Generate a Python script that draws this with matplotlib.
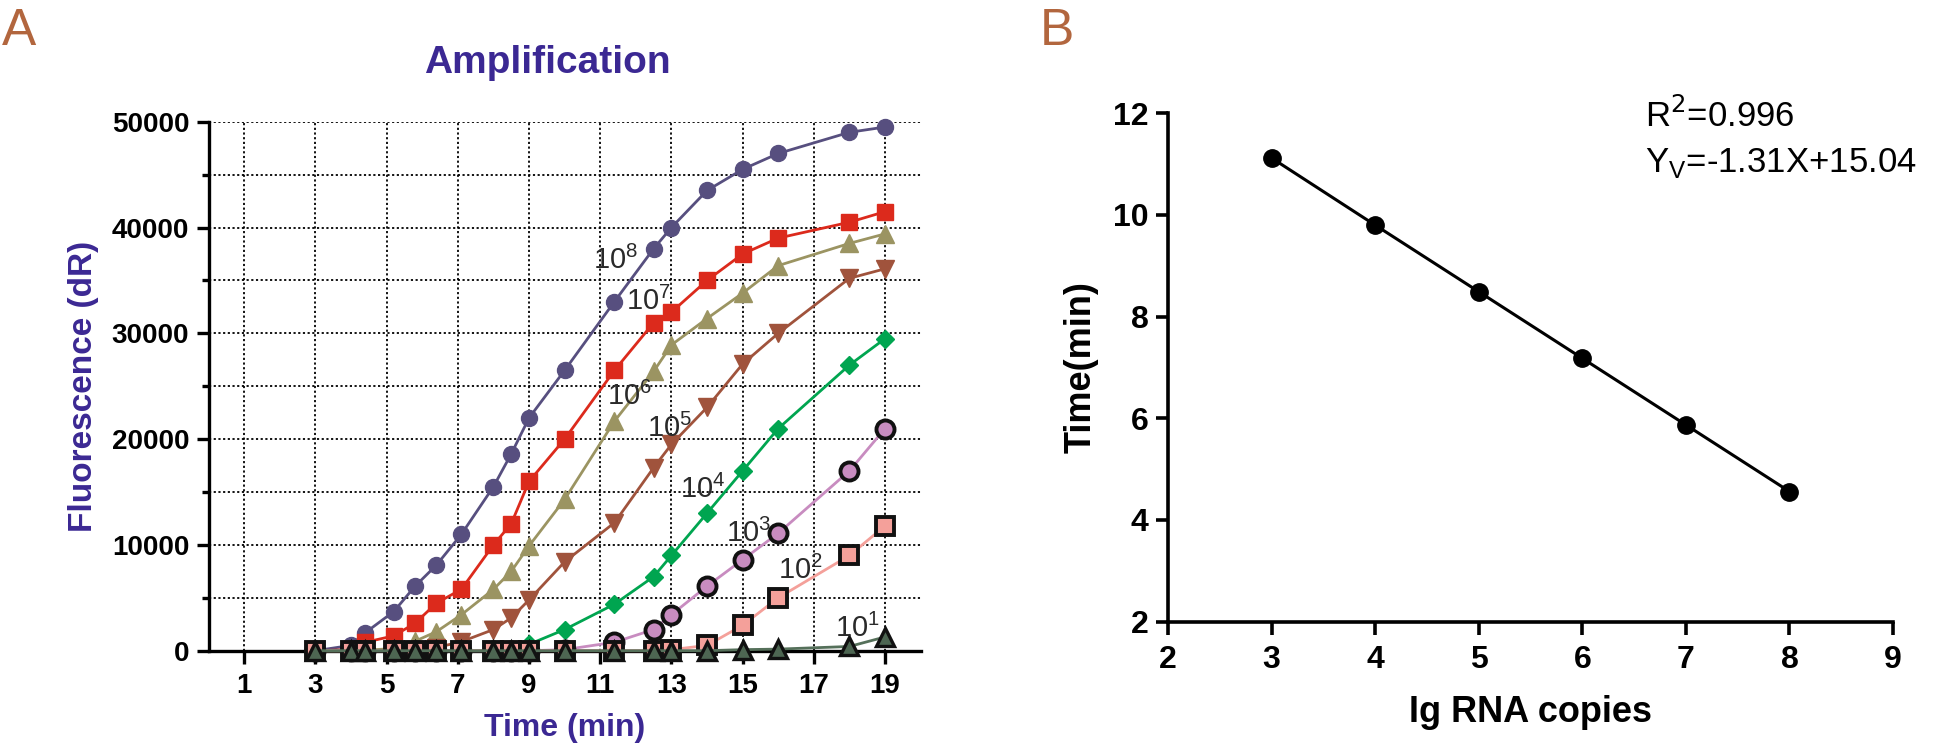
import matplotlib
matplotlib.use("Agg")
import matplotlib.pyplot as plt
from matplotlib.ticker import MultipleLocator

plt.rcParams['font.family'] = ['Liberation Sans', 'DejaVu Sans']

# panel A: amplification curves
time_min = [3, 4.0, 4.4, 5.2, 5.8, 6.4, 7.1, 8.0, 8.5, 9.0, 10.0, 11.4, 12.5, 13.0, 14.0, 15.0, 16.0, 18.0, 19.0]
c1e8 = [0, 500, 1700, 3700, 6100, 8100, 11000, 15500, 18600, 22000, 26500, 33000, 38000, 40000, 43500, 45500, 47000, 49000, 49500]
c1e7 = [0, 100, 800, 1400, 2600, 4500, 5800, 10000, 12000, 16000, 20000, 26500, 31000, 32000, 35000, 37500, 39000, 40500, 41500]
c1e6 = [0, 0, 50, 200, 900, 1800, 3400, 5800, 7500, 9900, 14300, 21700, 26400, 28900, 31400, 33800, 36400, 38500, 39400]
c1e5 = [0, 0, 0, 0, 0, 300, 850, 2000, 3100, 4800, 8400, 12100, 17300, 19500, 23000, 27100, 30000, 35200, 36100]
c1e4 = [0, 0, 0, 0, 0, 0, 0, 0, 0, 600, 2000, 4400, 7000, 9000, 13000, 17000, 21000, 27000, 29500]
c1e3 = [0, 0, 0, 0, 0, 0, 0, 0, 0, 0, 100, 800, 2000, 3400, 6100, 8600, 11100, 17000, 21000]
c1e2 = [0, 0, 0, 0, 0, 0, 0, 0, 0, 0, 0, 0, 0, 100, 500, 2400, 5000, 9000, 11800]
c1e1 = [0, 0, 0, 0, 0, 0, 0, 0, 0, 0, 0, 0, 0, 0, 0, 100, 150, 400, 1300]

curve_labels = ['8', '7', '6', '5', '4', '3', '2', '1']
label_x = [10.8, 11.73, 11.18, 12.3, 13.24, 14.53, 16.0, 17.6]
label_y = [36080, 32200, 23200, 20170, 14400, 10300, 6780, 1320]

# panel B: standard curve
lg_copies = [3, 4, 5, 6, 7, 8]
time_pos = [11.12, 9.80, 8.49, 7.18, 5.87, 4.56]

title_col = '#3b2893'
panel_col = '#b2663e'

fig = plt.figure(figsize=(19.46, 7.5), dpi=100)
ax = fig.add_axes([0.1072, 0.1324, 0.3659, 0.7053])
ax2 = fig.add_axes([0.6002, 0.1711, 0.3726, 0.6779])

# --- panel A ---
lw = 2.0
ax.plot(time_min, c1e8, '-o', color='#574f7f', lw=lw, ms=11.5, clip_on=False, zorder=3)
ax.plot(time_min, c1e7, '-s', color='#dc2a1c', lw=lw, ms=11.5, clip_on=False, zorder=3)
ax.plot(time_min, c1e6, '-^', color='#9b9462', lw=lw, ms=13, clip_on=False, zorder=3)
ax.plot(time_min, c1e5, '-v', color='#a0533c', lw=lw, ms=13, clip_on=False, zorder=3)
ax.plot(time_min, c1e4, '-D', color='#00a550', lw=lw, ms=9.5, clip_on=False, zorder=3)
ax.plot(time_min, c1e3, '-o', color='#c88cc0', mfc='#c88cc0', mec='#111111', mew=2.8,
        lw=lw, ms=13, clip_on=False, zorder=4)
ax.plot(time_min, c1e2, '-s', color='#f4a09a', mfc='#f4a09a', mec='#111111', mew=2.8,
        lw=lw, ms=13, clip_on=False, zorder=4)
ax.plot(time_min, c1e1, '-^', color='#55705a', mfc='#4d6652', mec='#111111', mew=2.4,
        lw=lw, ms=13, clip_on=False, zorder=5)

for lab, lx, ly in zip(curve_labels, label_x, label_y):
    ax.text(lx, ly, r'$\mathregular{10^{%s}}$' % lab, fontsize=21, color='#2a2a2a',
            ha='left', va='baseline', zorder=6)

ax.set_xlim(0, 20)
ax.set_ylim(0, 50000)
ax.set_xticks([1, 3, 5, 7, 9, 11, 13, 15, 17, 19])
ax.yaxis.set_major_locator(MultipleLocator(10000))
ax.yaxis.set_minor_locator(MultipleLocator(5000))
ax.grid(True, which='major', axis='x', color='black', ls=(0, (1.2, 1.4)), lw=1.3)
ax.grid(True, which='both', axis='y', color='black', ls=(0, (1.2, 1.4)), lw=1.3)
ax.set_axisbelow(True)
for s in ['top', 'right']:
    ax.spines[s].set_visible(False)
for s in ['left', 'bottom']:
    ax.spines[s].set_linewidth(2.4)
ax.tick_params(axis='both', which='major', length=9, width=2.4, labelsize=20, pad=5)
ax.tick_params(axis='x', which='major', pad=7)
ax.tick_params(axis='y', which='minor', length=5, width=2.4)
for t in ax.get_xticklabels() + ax.get_yticklabels():
    t.set_fontweight('bold')
ax.set_xlabel('Time (min)', fontsize=23, fontweight='bold', color=title_col, labelpad=10)
ax.set_ylabel('Fluorescence (dR)', fontsize=24, fontweight='bold', color=title_col, labelpad=9)
fig.text(547 / 1946, 1 - 73 / 750, 'Amplification', fontsize=28, fontweight='bold',
         color=title_col, ha='center', va='baseline')

# --- panel B ---
ax2.plot(lg_copies, time_pos, '-o', color='black', lw=2.2, ms=12.5, clip_on=False)
ax2.set_xlim(2, 9)
ax2.set_ylim(2, 12)
ax2.set_xticks([2, 3, 4, 5, 6, 7, 8, 9])
ax2.set_yticks([2, 4, 6, 8, 10, 12])
for s in ['top', 'right']:
    ax2.spines[s].set_visible(False)
for s in ['left', 'bottom']:
    ax2.spines[s].set_linewidth(2.6)
ax2.tick_params(axis='both', length=9, width=2.6, labelsize=23, pad=5)
ax2.tick_params(axis='x', pad=8)
for t in ax2.get_xticklabels() + ax2.get_yticklabels():
    t.set_fontweight('bold')
ax2.set_xlabel('Ig RNA copies', fontsize=26, fontweight='bold', labelpad=14)
ax2.set_ylabel('Time(min)', fontsize=26, fontweight='bold', labelpad=10)
fig.text(1645 / 1946, 1 - 127 / 750, r'R$^{2}$=0.996', fontsize=25, ha='left', va='baseline')
fig.text(1645 / 1946, 1 - 172 / 750, r'Y$_{\mathregular{V}}$=-1.31X+15.04', fontsize=25,
         ha='left', va='baseline')

# panel letters
fig.text(2 / 1946, 1 - 45 / 750, 'A', fontsize=37, color=panel_col, ha='left', va='baseline')
fig.text(1040 / 1946, 1 - 45 / 750, 'B', fontsize=37, color=panel_col, ha='left', va='baseline')

fig.savefig('out.png', dpi=100)
